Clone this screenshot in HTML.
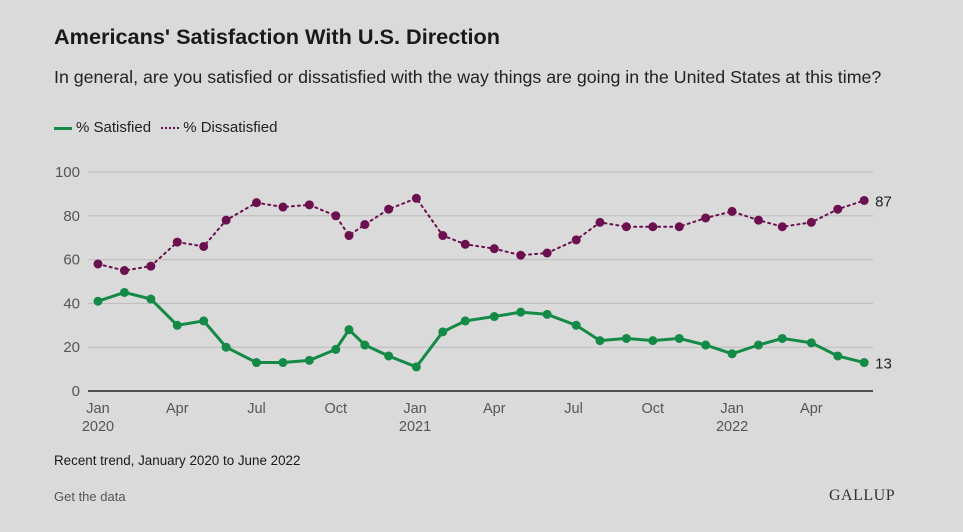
<!DOCTYPE html>
<html><head><meta charset="utf-8"><style>
body{margin:0;width:963px;height:532px;background:#dadada;font-family:"Liberation Sans",sans-serif;overflow:hidden;position:relative}
.t{position:absolute;white-space:nowrap;color:#1a1a1a}
</style></head><body>
<div class="t" style="left:54px;top:24px;font-size:21.7px;font-weight:bold">Americans' Satisfaction With U.S. Direction</div>
<div class="t" style="left:54px;top:67px;font-size:17.8px;color:#222">In general, are you satisfied or dissatisfied with the way things are going in the United States at this time?</div>
<div style="position:absolute;left:54px;top:119px;font-size:15px;color:#222">
<span><span style="display:inline-block;width:18px;height:0;border-top:3px solid #138a45;vertical-align:middle;margin-right:4px"></span>% Satisfied</span>
<span style="margin-left:6px"><span style="display:inline-block;width:18px;height:0;border-top:2px dotted #6b0f4e;vertical-align:middle;margin-right:4px"></span>% Dissatisfied</span>
</div>
<svg id="chart" width="963" height="532" style="position:absolute;left:0;top:0"></svg>
<div class="t" style="left:54px;top:453px;font-size:13.4px">Recent trend, January 2020 to June 2022</div>
<div class="t" style="left:54px;top:489px;font-size:13px;color:#555">Get the data</div>
<div class="t" style="left:829px;top:487px;font-size:16px;font-family:'Liberation Serif',serif;letter-spacing:0.5px;color:#333">GALLUP</div>
<script>
const months=[0,1,2,3,4,4.85,6,7,8,9,9.5,10.1,11,12.05,13.05,13.9,15,16,17,18.1,19,20,21,22,23,24,25,25.9,27,28,29];
const satisfied=[41,45,42,30,32,20,13,13,14,19,28,21,16,11,27,32,34,36,35,30,23,24,23,24,21,17,21,24,22,16,13];
const dissatisfied=[58,55,57,68,66,78,86,84,85,80,71,76,83,88,71,67,65,62,63,69,77,75,75,75,79,82,78,75,77,83,87];
const yTicks=[0,20,40,60,80,100];
const xTickMonths=[0,3,6,9,12,15,18,21,24,27];
const xTickLabels=["Jan","Apr","Jul","Oct","Jan","Apr","Jul","Oct","Jan","Apr"];
const xTickYears=["2020","","","","2021","","","","2022",""];
const NS="http://www.w3.org/2000/svg";
const svg=document.getElementById('chart');
const x=m=>98+m*26.42;
const y=v=>391-v*2.19;
function mk(t,a){const e=document.createElementNS(NS,t);for(const k in a)e.setAttribute(k,a[k]);svg.appendChild(e);return e;}
yTicks.forEach(v=>{
 const l=mk('line',{x1:88,x2:873,y1:y(v),y2:y(v),stroke:v===0?'#222':'#bbb','stroke-width':v===0?1.5:1});
 
 
 const t=mk('text',{x:80,y:y(v)+5,'text-anchor':'end','font-size':15,fill:'#555'});t.textContent=v;
 
 
});
xTickMonths.forEach((m,i)=>{
 const t=mk('text',{x:x(m),y:413,'text-anchor':'middle','font-size':14.5,fill:'#555'});t.textContent=xTickLabels[i];
 
 
 if(xTickYears[i]){const t2=mk('text',{x:x(m),y:431,'text-anchor':'middle','font-size':14.5,fill:'#555'});t2.textContent=xTickYears[i];
 
 }
});
function series(vals,color,dash,name){
 const p=mk('polyline',{points:vals.map((v,i)=>x(months[i])+','+y(v)).join(' '),fill:'none',stroke:color,'stroke-width':dash?2:3,'stroke-dasharray':dash?'2 4':'none','stroke-linecap':'round'});
 
 
 vals.forEach((v,i)=>{const c=mk('circle',{cx:x(months[i]),cy:y(v),r:4.5,fill:color});
 
 });
 const last=vals[vals.length-1];
 const t=mk('text',{x:x(months[months.length-1])+11,y:y(last)+6,'font-size':15,fill:'#222'});t.textContent=last;
 
 
}
series(dissatisfied,'#6b0f4e',true,'dissatisfied');
series(satisfied,'#138a45',false,'satisfied');
</script>
</body></html>
